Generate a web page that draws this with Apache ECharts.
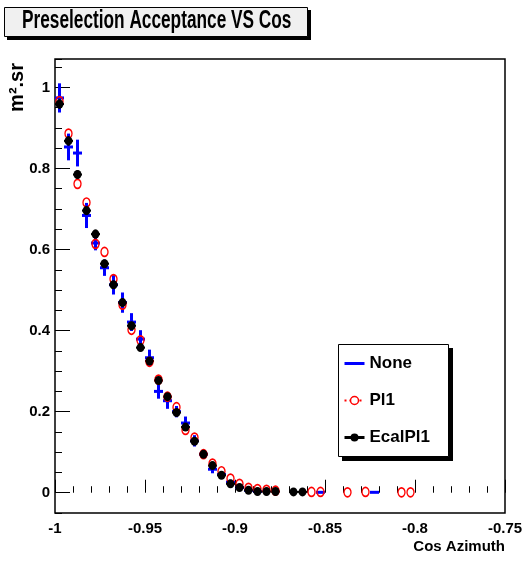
<!DOCTYPE html>
<html><head><meta charset="utf-8">
<script src="https://cdn.jsdelivr.net/npm/echarts@6/dist/echarts.min.js"></script>
<style>html,body{margin:0;padding:0;background:#fff}#c{width:526px;height:561px}</style>
</head><body><div id="c"></div>
<script>
// ---- data ----
const binHalfWidth = 0.0025;

const noneX = [-0.9975,-0.9925,-0.9875,-0.9825,-0.9775,-0.9725,-0.9675,-0.9625,-0.9575,-0.9525,-0.9475,-0.9425,-0.9375,-0.9325,-0.9275,-0.9225,-0.9175,-0.9125,-0.9075,-0.9025,-0.8975,-0.8925,-0.8875,-0.8525,-0.8225];
const noneY = [0.974,0.853,0.838,0.684,0.616,0.555,0.513,0.469,0.421,0.379,0.333,0.250,0.227,0.200,0.172,0.128,0.095,0.058,0.045,0.026,0.013,0.006,0.003,0.001,0.001];
const noneErr = [0.036,0.033,0.033,0.031,0.018,0.020,0.024,0.025,0.022,0.022,0.020,0.018,0.020,0.014,0.016,0.014,0.010,0.010,0.008,0.006,0.005,0.004,0.003,0.001,0.001];

const pl1X = [-0.9975,-0.9925,-0.9875,-0.9825,-0.9775,-0.9725,-0.9675,-0.9625,-0.9575,-0.9525,-0.9475,-0.9425,-0.9375,-0.9325,-0.9275,-0.9225,-0.9175,-0.9125,-0.9075,-0.9025,-0.8975,-0.8925,-0.8875,-0.8825,-0.8775,-0.8575,-0.8525,-0.8375,-0.8275,-0.8075,-0.8025];
const pl1Y = [0.966,0.886,0.762,0.716,0.614,0.594,0.527,0.464,0.402,0.376,0.323,0.279,0.237,0.211,0.155,0.136,0.095,0.072,0.053,0.035,0.022,0.012,0.009,0.007,0.005,0.002,0.002,0.001,0.002,0.001,0.001];

const ecalX = [-0.9975,-0.9925,-0.9875,-0.9825,-0.9775,-0.9725,-0.9675,-0.9625,-0.9575,-0.9525,-0.9475,-0.9425,-0.9375,-0.9325,-0.9275,-0.9225,-0.9175,-0.9125,-0.9075,-0.9025,-0.8975,-0.8925,-0.8875,-0.8825,-0.8775,-0.8675,-0.8625];
const ecalY = [0.959,0.868,0.785,0.696,0.638,0.565,0.513,0.469,0.412,0.358,0.325,0.277,0.237,0.198,0.162,0.127,0.095,0.067,0.043,0.022,0.013,0.006,0.003,0.003,0.003,0.002,0.002];
const ecalErr = [0.012,0.012,0.011,0.011,0.011,0.010,0.010,0.010,0.010,0.009,0.009,0.009,0.009,0.008,0.008,0.008,0.007,0.007,0.006,0.005,0.004,0.003,0.002,0.002,0.002,0.001,0.001];

const xTickValues = [-1,-0.95,-0.9,-0.85,-0.8,-0.75];
const xTickLabels = ['-1','-0.95','-0.9','-0.85','-0.8','-0.75'];
const yTickValues = [0,0.2,0.4,0.6,0.8,1];
const yTickLabels = ['0','0.2','0.4','0.6','0.8','1'];

const titleText = 'Preselection Acceptance VS Cos';
const xName = 'Cos Azimuth';
const yName = 'm\u00b2.sr';

// ---- chart ----
const SANS = "'Liberation Sans',Arial,Helvetica,sans-serif";

function labelFor(v, vals, labs) {
  const i = vals.findIndex(t => Math.abs(t - v) < 1e-9);
  return i >= 0 ? labs[i] : '';
}
function errRender(color, lw) {
  return function (params, api) {
    const x = api.value(0), y = api.value(1), e = api.value(2);
    const l = api.coord([x - binHalfWidth, y]);
    const r = api.coord([x + binHalfWidth, y]);
    const t = api.coord([x, y + e]);
    const b = api.coord([x, y - e]);
    return {type: 'group', children: [
      {type: 'line', shape: {x1: l[0], y1: l[1], x2: r[0], y2: r[1]}, style: {stroke: color, lineWidth: lw}},
      {type: 'line', shape: {x1: t[0], y1: t[1], x2: b[0], y2: b[1]}, style: {stroke: color, lineWidth: lw}}
    ]};
  };
}

const chart = echarts.init(document.getElementById('c'), null, {renderer: 'canvas'});
chart.setOption({
  animation: false,
  backgroundColor: '#ffffff',
  graphic: [
    {type: 'rect', z: 1, shape: {x: 7, y: 10, width: 304, height: 30}, style: {fill: '#000'}},
    {type: 'rect', z: 1, shape: {x: 4.5, y: 7.5, width: 303, height: 29}, style: {fill: '#f0f0f0', stroke: '#000', lineWidth: 1}},
    {type: 'text', z: 2, x: 22, y: 9, scaleX: 0.69,
      style: {text: titleText, fontFamily: SANS, fontWeight: 'bold', fontSize: 25, fill: '#000', verticalAlign: 'top'}},
    {type: 'rect', z: 1, shape: {x: 342, y: 348, width: 111, height: 113}, style: {fill: '#000'}},
    {type: 'rect', z: 1, shape: {x: 338.5, y: 344.5, width: 110, height: 112}, style: {fill: '#fff', stroke: '#000', lineWidth: 1}}
  ],
  legend: {
    orient: 'vertical', left: 343, top: 355, itemWidth: 20, itemHeight: 10, itemGap: 20,
    selectedMode: false, padding: 0,
    textStyle: {fontFamily: SANS, fontWeight: 'bold', fontSize: 17, color: '#000'},
    data: [
      {name: 'None', icon: 'path://M0,0L20,0L20,3L0,3Z', itemStyle: {color: '#0000ff'}},
      {name: 'Pl1', itemStyle: {color: '#ffffff', borderColor: '#ff0000', borderWidth: 1.5},
        lineStyle: {color: '#ff0000', width: 2, type: [2, 3], opacity: 1}},
      {name: 'EcalPl1', itemStyle: {color: '#000000', borderWidth: 0},
        lineStyle: {color: '#000000', width: 3, type: 'solid', opacity: 1}}
    ]
  },
  grid: {left: 55, top: 59, right: 21, bottom: 48, outerBoundsMode: 'none', containLabel: false,
    show: true, borderColor: '#000', borderWidth: 1.5, backgroundColor: 'transparent'},
  xAxis: {
    type: 'value', min: -1, max: -0.75, interval: 0.05,
    axisLine: {show: false}, splitLine: {show: false},
    axisTick: {inside: true, length: 13, lineStyle: {color: '#000', width: 1}},
    minorTick: {show: true, splitNumber: 5, length: 6.5, lineStyle: {color: '#000', width: 1}},
    axisLabel: {formatter: v => labelFor(v, xTickValues, xTickLabels), margin: 8, color: '#000',
      fontFamily: SANS, fontWeight: 'bold', fontSize: 15, hideOverlap: false},
    name: xName, nameLocation: 'end', nameGap: 0, nameMoveOverlap: false,
    nameTextStyle: {align: 'right', verticalAlign: 'top', padding: [47, 0, 0, 0], color: '#000',
      fontFamily: SANS, fontWeight: 'bold', fontSize: 15}
  },
  yAxis: [
    {
      type: 'value', min: -0.05, max: 1.07,
      axisLine: {show: false}, splitLine: {show: false},
      axisTick: {inside: true, length: 15, customValues: yTickValues, lineStyle: {color: '#000', width: 1}},
      axisLabel: {customValues: yTickValues, formatter: v => labelFor(v, yTickValues, yTickLabels), margin: 5,
        color: '#000', fontFamily: SANS, fontWeight: 'bold', fontSize: 15},
      name: yName, nameLocation: 'end', nameGap: -4, nameRotate: 90, nameMoveOverlap: false,
      nameTextStyle: {align: 'right', verticalAlign: 'bottom', padding: [0, 0, 28, 0], color: '#000',
        fontFamily: SANS, fontWeight: 'bold', fontSize: 20}
    },
    {
      type: 'value', min: -0.05, max: 1.07, interval: 0.05, position: 'left',
      axisLine: {show: false}, splitLine: {show: false}, axisLabel: {show: false},
      axisTick: {inside: true, length: 7, lineStyle: {color: '#000', width: 1}}
    }
  ],
  series: [
    {
      name: 'Pl1', type: 'line', yAxisIndex: 0,
      data: pl1X.map((x, i) => [x, pl1Y[i]]),
      symbol: 'circle', symbolSize: [7, 9], showSymbol: true, showAllSymbol: true,
      lineStyle: {width: 0, opacity: 0},
      itemStyle: {color: 'rgba(255,255,255,0)', borderColor: '#ff0000', borderWidth: 1.5},
      emphasis: {disabled: true}, silent: true
    },
    {
      name: 'None', type: 'custom', yAxisIndex: 0,
      data: noneX.map((x, i) => [x, noneY[i], noneErr[i]]),
      encode: {x: 0, y: 1},
      itemStyle: {color: '#0000ff'},
      renderItem: errRender('#0000ff', 3), silent: true
    },
    {
      name: 'EcalPl1 errors', type: 'custom', yAxisIndex: 0,
      data: ecalX.map((x, i) => [x, ecalY[i], ecalErr[i]]),
      encode: {x: 0, y: 1},
      renderItem: errRender('#000000', 2), silent: true
    },
    {
      name: 'EcalPl1', type: 'line', yAxisIndex: 0,
      data: ecalX.map((x, i) => [x, ecalY[i]]),
      symbol: 'circle', symbolSize: [8, 9], showSymbol: true, showAllSymbol: true,
      lineStyle: {width: 0, opacity: 0},
      itemStyle: {color: '#000000'},
      emphasis: {disabled: true}, silent: true
    }
  ]
});
</script></body></html>
